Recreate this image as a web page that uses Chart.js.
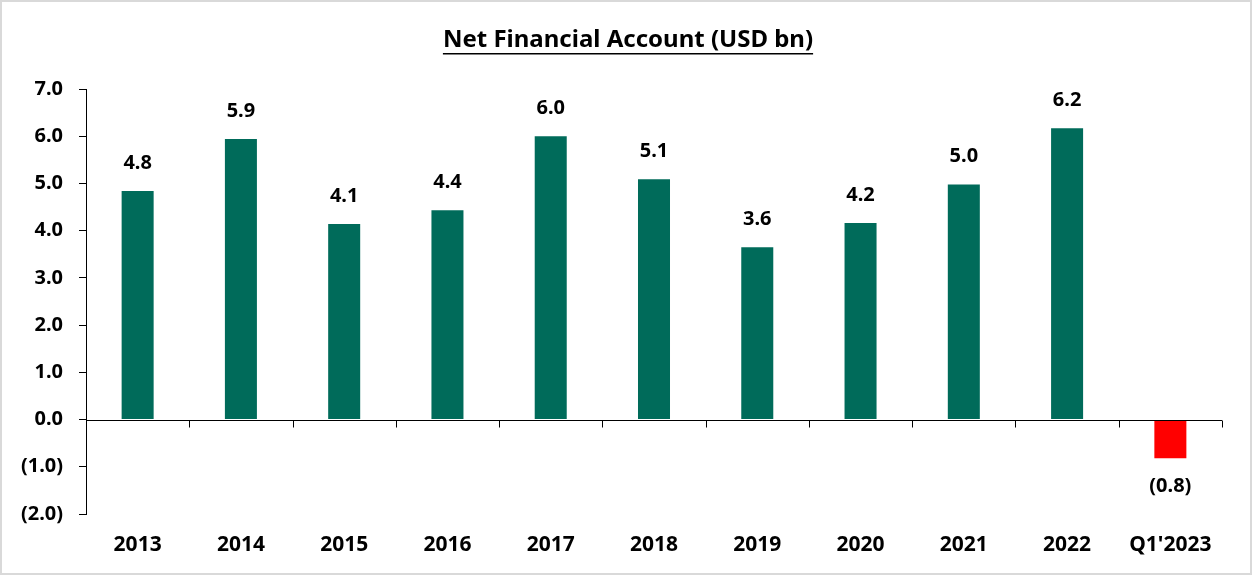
<!DOCTYPE html>
<html>
<head>
<meta charset="utf-8">
<script src="https://cdn.jsdelivr.net/npm/chart.js@4.4.1/dist/chart.umd.min.js"></script>
<style>
  html,body{margin:0;padding:0;background:#fff;}
  #wrap{width:1252px;height:575px;box-sizing:border-box;border:2px solid #d9d9d9;position:relative;}
  #wrap canvas{display:block;}
</style>
</head>
<body>
<div id="wrap"><canvas id="chart" width="1248" height="571"></canvas></div>
<script>
const title = "Net Financial Account (USD bn)";
const categories = ["2013","2014","2015","2016","2017","2018","2019","2020","2021","2022","Q1'2023"];
const values = [4.84, 5.94, 4.14, 4.43, 6.0, 5.09, 3.65, 4.16, 4.98, 6.17, -0.82];
const yMin = -2, yMax = 7, yStep = 1;

const GREEN = "#006b5a";
const RED = "#ff0000";
const FONT = "'Noto Sans', 'Open Sans', sans-serif";

function fmt(v){
  return v < 0 ? "(" + Math.abs(v).toFixed(1) + ")" : v.toFixed(1);
}

/* 見出し（下線付き） */
const titlePlugin = {
  id: "titleUnderline",
  afterDraw(chart){
    const c = chart.ctx;
    c.save();
    c.font = "bold 24px " + FONT;
    c.fillStyle = "#000";
    c.textAlign = "center";
    c.textBaseline = "middle";
    const cx = chart.width / 2 + 2;
    c.fillText(title, cx, 38);
    const w = c.measureText(title).width;
    c.fillRect(cx - w/2, 51, w, 1.5);
    c.restore();
  }
};

/* ゼロ線と区切り目盛り */
const zeroLine = {
  id: "zeroLine",
  afterDatasetsDraw(chart){
    const c = chart.ctx, x = chart.scales.x, y = chart.scales.y;
    const y0 = Math.round(y.getPixelForValue(0)) + 0.5;
    c.save();
    c.strokeStyle = "#000";
    c.lineWidth = 1;
    c.beginPath();
    c.moveTo(chart.chartArea.left, y0);
    c.lineTo(chart.chartArea.right, y0);
    for(let i=0;i<categories.length;i++){
      const bx = i < categories.length-1
        ? (x.getPixelForValue(i) + x.getPixelForValue(i+1))/2
        : chart.chartArea.right;
      const px = Math.round(bx) + 0.5;
      c.moveTo(px, y0);
      c.lineTo(px, y0 + 7);
    }
    c.stroke();
    c.restore();
  }
};

/* 値ラベル */
const valueLabels = {
  id: "valueLabels",
  afterDatasetsDraw(chart){
    const c = chart.ctx;
    const meta = chart.getDatasetMeta(0);
    c.save();
    c.font = "bold 20px " + FONT;
    c.fillStyle = "#000";
    c.textAlign = "center";
    c.textBaseline = "middle";
    meta.data.forEach((bar, i)=>{
      const v = values[i];
      const ty = v >= 0 ? bar.y - 28 : bar.y + 28;
      c.fillText(fmt(v), bar.x, ty);
    });
    c.restore();
  }
};

new Chart(document.getElementById("chart"), {
  type: "bar",
  data: {
    labels: categories,
    datasets: [{
      data: values,
      backgroundColor: values.map(v => v < 0 ? RED : GREEN),
      borderWidth: 0,
      categoryPercentage: 1,
      barPercentage: 0.31
    }]
  },
  options: {
    responsive: false,
    animation: false,
    layout: { padding: { top: 87, right: 28, left: 0, bottom: 0 } },
    plugins: {
      legend: { display: false },
      tooltip: { enabled: false },
      title: { display: false }
    },
    scales: {
      x: {
        grid: { display: false, drawTicks: false },
        border: { display: false },
        ticks: {
          color: "#000",
          padding: 18,
          font: { family: FONT, size: 21, weight: "bold" },
          maxRotation: 0
        },
        afterFit: s => { s.height = 59; }
      },
      y: {
        min: yMin,
        max: yMax,
        ticks: {
          stepSize: yStep,
          color: "#000",
          padding: 16,
          font: { family: FONT, size: 20, weight: "bold" },
          callback: v => fmt(v)
        },
        grid: { drawOnChartArea: false, color: "#000", tickLength: 7 },
        border: { display: true, color: "#000", width: 1 },
        afterFit: s => { s.width = 84; }
      }
    }
  },
  plugins: [titlePlugin, zeroLine, valueLabels]
});
</script>
</body>
</html>
